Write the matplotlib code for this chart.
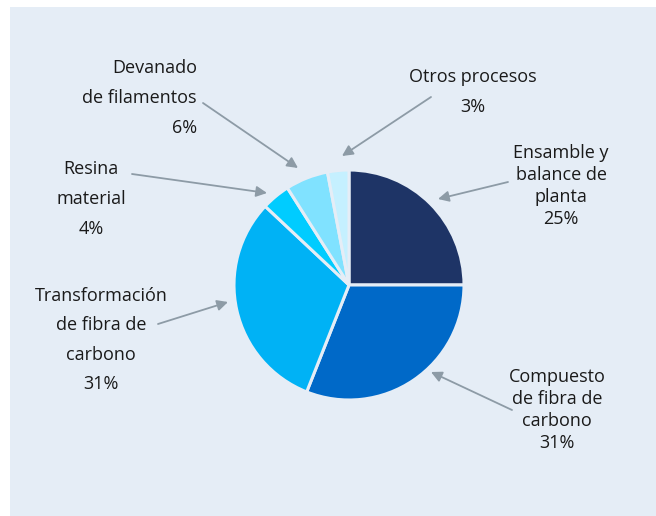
import matplotlib.pyplot as plt
from matplotlib.patches import Rectangle

plt.rcParams['font.family'] = ['Open Sans', 'DejaVu Sans']

# data
labels = ["Ensamble y\nbalance de\nplanta", "Compuesto\nde fibra de\ncarbono",
          "Transformación\nde fibra de\ncarbono", "Resina\nmaterial",
          "Devanado\nde filamentos", "Otros procesos"]
shares = [25, 31, 31, 4, 6, 3]
colors = ["#1E3466", "#0069C8", "#00B2F5", "#00CCFF", "#80E2FF", "#C5F0FF"]

bg = "#E5EDF6"
arrow_col = "#8D9BA6"

# label layout (pixel coords, y down): text position, alignment, line spacing, arrow start, arrow end
layout = [
    dict(xy=(561, 186), ha="center", ls=1.28, a0=(508, 182), a1=(438, 199)),
    dict(xy=(557, 410), ha="center", ls=1.28, a0=(512, 410), a1=(431, 372)),
    dict(xy=(101, 340), ha="center", ls=1.83, a0=(158, 324), a1=(228, 302)),
    dict(xy=(91, 199), ha="center", ls=1.83, a0=(132, 174), a1=(267, 193)),
    dict(xy=(197, 98), ha="right", ls=1.83, a0=(203, 103), a1=(298, 168)),
    dict(xy=(473, 92), ha="center", ls=1.83, a0=(431, 97), a1=(342, 156)),
]

fig = plt.figure(figsize=(6.56, 5.16), dpi=100)
ax = fig.add_axes([0, 0, 1, 1])

ax.add_patch(Rectangle((10, 7), 660, 520, facecolor=bg, edgecolor="none", zorder=0))

# y axis is inverted below, so angles are mirrored: start at -90 going "counterclockwise"
ax.pie(shares, colors=colors, startangle=-90, counterclock=True,
       center=(349, 285), radius=115, frame=True,
       wedgeprops=dict(edgecolor=bg, linewidth=2.2))
ax.set_xlim(0, 656)
ax.set_ylim(516, 0)
ax.axis("off")

for lab, val, lay in zip(labels, shares, layout):
    ax.text(lay["xy"][0], lay["xy"][1], f"{lab}\n{val}%", ha=lay["ha"], va="center",
            multialignment=lay["ha"], linespacing=lay["ls"], fontsize=13, color="#1a1a1a")
    ax.annotate("", xy=lay["a1"], xytext=lay["a0"],
                arrowprops=dict(arrowstyle="-|>", color=arrow_col, lw=1.3,
                                mutation_scale=16, shrinkA=0, shrinkB=0))

fig.savefig("out.png", dpi=100)
